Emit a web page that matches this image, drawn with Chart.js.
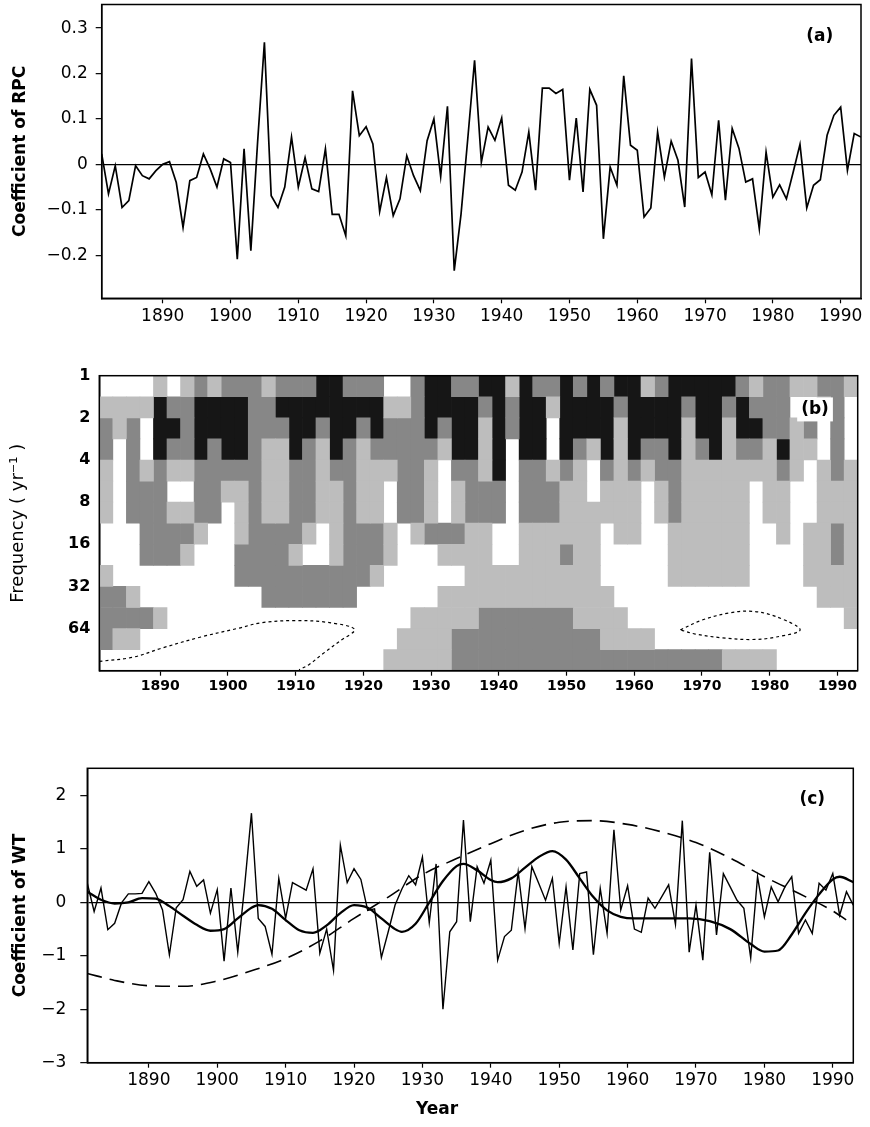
<!DOCTYPE html>
<html>
<head>
<meta charset="utf-8">
<script src="https://cdn.jsdelivr.net/npm/chart.js@4.4.1/dist/chart.umd.min.js"></script>
<style>
  body { margin: 0; background: #fff; }
  #page { position: relative; width: 870px; height: 1127px; }
  canvas { position: absolute; left: 0; }
  #yearLabel { position: absolute; left: 437px; top: 1108px; transform: translate(-50%, -50%);
               font: bold 17px "DejaVu Sans", sans-serif; color: #000; }
</style>
</head>
<body>
<div id="page">
  <canvas id="rpc" width="870" height="340" style="top:0px"></canvas>
  <canvas id="wavelet" width="870" height="380" style="top:340px"></canvas>
  <canvas id="wt" width="870" height="407" style="top:720px"></canvas>
  <div id="yearLabel">Year</div>
</div>
<script>
// ---- data ---- //
const firstYear = 1881;
const lastYear = 1993;
const yearTicks = [1890, 1900, 1910, 1920, 1930, 1940, 1950, 1960, 1970, 1980, 1990];

// (a) coefficient of the rotated PC, one value per year 1881-1993
const rpcValues = [
  0.023, -0.065, -0.003, -0.095, -0.08, -0.003, -0.025, -0.032, -0.014, 0.0,
  0.006, -0.04, -0.139, -0.036, -0.029, 0.023, -0.01, -0.05, 0.012, 0.004,
  -0.209, 0.034, -0.19, 0.05, 0.269, -0.069, -0.095, -0.05, 0.06, -0.05,
  0.015, -0.054, -0.06, 0.034, -0.11, -0.11, -0.157, 0.162, 0.063, 0.083,
  0.045, -0.104, -0.029, -0.113, -0.076, 0.019, -0.025, -0.058, 0.052, 0.1,
  -0.027, 0.128, -0.234, -0.11, 0.057, 0.229, 0.005, 0.082, 0.053, 0.102,
  -0.046, -0.057, -0.017, 0.071, -0.057, 0.168, 0.168, 0.156, 0.165, -0.035,
  0.102, -0.061, 0.165, 0.13, -0.164, -0.006, -0.046, 0.195, 0.042, 0.031,
  -0.116, -0.096, 0.071, -0.028, 0.051, 0.009, -0.094, 0.233, -0.029, -0.017,
  -0.067, 0.097, -0.079, 0.079, 0.035, -0.039, -0.032, -0.142, 0.027, -0.072,
  -0.045, -0.076, -0.017, 0.044, -0.096, -0.046, -0.034, 0.064, 0.108, 0.126,
  -0.013, 0.068, 0.06
];
const rpcTicks = [-0.2, -0.1, 0, 0.1, 0.2, 0.3];
const rpcTickLabels = ['\u22120.2', '\u22120.1', '0', '0.1', '0.2', '0.3'];

// (b) wavelet shading: rows are half-octave bands of period (1 yr at top),
// columns are 2-year blocks from 1881; 0 white, 1 light, 2 dark, 3 black
const periodTicks = [0, 1, 2, 3, 4, 5, 6];
const periodTickLabels = ['1', '2', '4', '8', '16', '32', '64'];
const waveletRows = [
  '00001 01212 22122 23322 20023 32 | 23313 22323 23312 33333 21221 1221',
  '11113 22333 32233 33333 31123 33 | 32323 31333 32333 32332 32220 0120',
  '21203 32333 32223 32332 32223 23 | 31323 30333 31333 31331 33221 2020',
  '20203 22323 32113 21321 22222 13 | 31303 30321 31322 31231 22131 1020',
  '10212 11222 22112 21221 11221 02 | 21302 21210 21212 21111 11121 0121',
  '10222 00221 12112 21121 10221 01 | 22202 22110 11101 21111 10110 0111',
  '10222 11220 12112 21121 10221 01 | 22202 22111 11101 21111 10110 0111',
  '00022 22100 12222 10122 21012 22 | 11001 11111 01100 11111 10010 1121',
  '00022 21000 22221 00122 21000 11 | 11001 11211 00000 11111 10000 1121',
  '10000 00000 22222 22222 10000 00 | 11111 11111 00000 11111 10000 1111',
  '22100 00000 00222 22220 00000 11 | 11111 11111 10000 00000 00000 0111',
  '22221 00000 00000 00000 00011 11 | 12222 22211 11000 00000 00000 0001',
  '21100 00000 00000 00000 00111 12 | 22222 22222 11110 00000 00000 0000',
  '00000 00000 00000 00000 01111 12 | 22222 22222 22222 22221 11100 0000'
];
const waveletColStep = 2;   // years per block
const waveletRowStep = 0.5; // octaves per band
const shadeColors = ['#bdbdbd', '#878787', '#161616'];
// dashed (negative) contours near the bottom, in year / log2(period)
const contourWestYears = [1881.0, 1886.0, 1890.3, 1896.0, 1901.6, 1905.0, 1910.0, 1915.0, 1918.7, 1916.5, 1914.0, 1912.0, 1910.5];
const contourWestLevels = [6.78, 6.68, 6.46, 6.2, 5.99, 5.86, 5.81, 5.86, 6.02, 6.3, 6.6, 6.85, 6.98];
const contourEastYears = [1966.8, 1970.0, 1974.0, 1977.4, 1981.0, 1984.5, 1981.0, 1977.4, 1973.0, 1969.0, 1966.8];
const contourEastLevels = [6.03, 5.8, 5.63, 5.59, 5.72, 6.03, 6.2, 6.26, 6.22, 6.13, 6.03];

// (c) coefficient of the wavelet transform, one value per year 1881-1993
const wtValues = [
  0.36, -0.17, 0.27, -0.51, -0.39, -0.01, 0.16, 0.16, 0.17, 0.39,
  0.17, -0.14, -0.98, -0.1, 0.05, 0.58, 0.3, 0.42, -0.2, 0.24,
  -1.1, 0.27, -0.93, 0.3, 1.67, -0.3, -0.45, -0.97, 0.45, -0.3,
  0.37, 0.3, 0.23, 0.63, -0.95, -0.5, -1.27, 1.07, 0.37, 0.63,
  0.43, -0.15, -0.12, -1.03, -0.55, -0.05, 0.25, 0.5, 0.33, 0.85,
  -0.38, 0.72, -2.0, -0.55, -0.36, 1.54, -0.36, 0.67, 0.36, 0.79,
  -1.08, -0.64, -0.52, 0.57, -0.49, 0.67, 0.36, 0.04, 0.45, -0.77,
  0.29, -0.89, 0.54, 0.57, -0.98, 0.26, -0.58, 1.36, -0.14, 0.31,
  -0.5, -0.56, 0.08, -0.11, 0.11, 0.33, -0.41, 1.53, -0.93, -0.05,
  -1.08, 0.94, -0.61, 0.54, 0.29, 0.04, -0.11, -1.04, 0.48, -0.27,
  0.29, 0.01, 0.29, 0.48, -0.58, -0.33, -0.58, 0.36, 0.23, 0.54,
  -0.24, 0.2, -0.05
];
// decadal component (thick solid curve)
const wtSmoothYears = [1881, 1883, 1885, 1887, 1889, 1891, 1893, 1895, 1897, 1899, 1901, 1903, 1905, 1906, 1908, 1910,
  1912, 1914, 1916, 1918, 1920, 1922, 1924, 1926, 1927, 1929, 1931, 1933, 1935, 1936, 1938, 1940, 1941, 1943, 1945,
  1947, 1949, 1951, 1953, 1955, 1957, 1959, 1961, 1965, 1969, 1972, 1975, 1978, 1980, 1982, 1984, 1986, 1988, 1990, 1991, 1993];
const wtSmoothValues = [0.2, 0.05, -0.02, 0.0, 0.08, 0.07, -0.07, -0.25, -0.42, -0.53, -0.5, -0.3, -0.1, -0.05, -0.12, -0.33,
  -0.52, -0.57, -0.43, -0.2, -0.05, -0.1, -0.3, -0.5, -0.55, -0.4, 0.0, 0.4, 0.68, 0.72, 0.6, 0.42, 0.38, 0.45, 0.65,
  0.85, 0.96, 0.8, 0.45, 0.1, -0.15, -0.27, -0.3, -0.3, -0.3, -0.35, -0.5, -0.78, -0.92, -0.9, -0.6, -0.2, 0.15, 0.43, 0.48, 0.38];
// long-period component (dashed curve)
const wtTrendYears = [1881, 1885, 1890, 1895, 1900, 1905, 1910, 1915, 1920, 1925, 1930, 1935, 1940, 1945, 1950, 1955,
  1960, 1965, 1970, 1975, 1980, 1985, 1990, 1992];
const wtTrendValues = [-1.33, -1.46, -1.56, -1.57, -1.47, -1.28, -1.05, -0.72, -0.3, 0.1, 0.52, 0.82, 1.1, 1.35, 1.5, 1.53,
  1.46, 1.32, 1.12, 0.83, 0.48, 0.17, -0.16, -0.33];
const wtTicks = [-3, -2, -1, 0, 1, 2];
const wtTickLabels = ['\u22123', '\u22122', '\u22121', '0', '1', '2'];

// ---- common setup ---- //
Chart.defaults.font.family = '"DejaVu Sans", sans-serif';
Chart.defaults.color = '#000';
Chart.defaults.animation = false;
Chart.defaults.plugins.legend.display = false;
Chart.defaults.plugins.tooltip.enabled = false;

const framePlugin = {
  id: 'frame',
  afterDatasetsDraw(chart) {
    const { ctx, chartArea: a } = chart;
    ctx.save();
    ctx.strokeStyle = '#000';
    ctx.lineWidth = 1.5;
    ctx.strokeRect(a.left, a.top, a.right - a.left, a.bottom - a.top);
    ctx.restore();
  }
};

const tagPlugin = {
  id: 'tag',
  afterDraw(chart, args, opts) {
    if (!opts.text) return;
    const ctx = chart.ctx;
    const x = chart.scales.x.getPixelForValue(opts.x);
    const y = chart.scales.y.getPixelForValue(opts.y);
    ctx.save();
    ctx.font = 'bold 17px "DejaVu Sans", sans-serif';
    ctx.textAlign = 'center';
    ctx.textBaseline = 'middle';
    if (opts.box) {
      const w = ctx.measureText(opts.text).width + 8;
      ctx.fillStyle = '#fff';
      ctx.fillRect(x - w / 2, y - 12, w, 24);
    }
    ctx.fillStyle = '#000';
    ctx.fillText(opts.text, x, y);
    ctx.restore();
  }
};

function yearAxis(height, font, tickLength, padding) {
  return {
    type: 'linear', min: firstYear, max: lastYear, offset: false,
    afterBuildTicks: s => { s.ticks = yearTicks.map(v => ({ value: v })); },
    afterFit: s => { s.height = height; s.paddingLeft = 0; s.paddingRight = 0; },
    grid: { drawOnChartArea: false, offset: false, tickLength: tickLength, tickColor: '#000', tickWidth: 1.2 },
    border: { color: '#000', width: 1.5 },
    ticks: { font: font, padding: padding, maxRotation: 0, autoSkip: false, callback: (v, i) => String(yearTicks[i]) }
  };
}

function valueAxis(opt) {
  return {
    type: 'linear', min: opt.min, max: opt.max, reverse: !!opt.reverse,
    afterBuildTicks: s => { s.ticks = opt.ticks.map(v => ({ value: v })); },
    afterFit: s => { s.width = opt.width; s.paddingTop = 0; s.paddingBottom = 0; },
    grid: {
      drawOnChartArea: !!opt.zeroLine,
      color: c => (opt.zeroLine && c.tick && c.tick.value === 0) ? '#000' : 'rgba(0,0,0,0)',
      lineWidth: 1.3,
      drawTicks: opt.tickLength > 0,
      tickLength: opt.tickLength, tickColor: '#000', tickWidth: 1.2
    },
    border: { color: '#000', width: 1.5 },
    ticks: { font: opt.font, padding: opt.padding, autoSkip: false, callback: (v, i) => opt.labels[i] },
    title: { display: true, text: opt.title, font: opt.titleFont, padding: { top: opt.titlePad, bottom: 0 } }
  };
}

// ---- (a) ---- //
new Chart(document.getElementById('rpc'), {
  type: 'line',
  data: {
    datasets: [{
      data: rpcValues.map((v, i) => ({ x: firstYear + i, y: v })),
      borderColor: '#000', borderWidth: 1.7, pointRadius: 0, tension: 0
    }]
  },
  options: {
    responsive: false, devicePixelRatio: 1,
    layout: { padding: { left: 0, right: 9, top: 4.5, bottom: 7.7 } },
    scales: {
      x: yearAxis(34, { size: 17 }, 5, 3),
      y: valueAxis({
        min: -0.295, max: 0.352, ticks: rpcTicks, labels: rpcTickLabels, width: 101.7,
        zeroLine: true, tickLength: 6, padding: 8, font: { size: 17 },
        title: 'Coefficient of RPC', titleFont: { size: 17, weight: 'bold' }, titlePad: 10
      })
    },
    plugins: { tag: { text: '(a)', x: 1986.9, y: 0.281 } }
  },
  plugins: [framePlugin, tagPlugin]
});

// ---- (b) ---- //
const waveletCells = waveletRows.map(r => r.replace(/[\s|]/g, '').split(''));
const waveletBars = shadeColors.map((color, k) => {
  const level = String(k + 1);
  const data = [];
  waveletCells.forEach((row, r) => {
    row.forEach((c, i) => {
      if (c === level) {
        data.push({
          x: firstYear + waveletColStep * (i + 0.5),
          y: [r * waveletRowStep, (r + 1) * waveletRowStep]
        });
      }
    });
  });
  return {
    type: 'bar', data: data, backgroundColor: color, borderWidth: 0,
    grouped: false, barPercentage: 1, categoryPercentage: 1, order: 2
  };
});
const contourStyle = { type: 'line', borderColor: '#000', borderWidth: 1.2, borderDash: [3, 3], pointRadius: 0, tension: 0.35, order: 0 };

new Chart(document.getElementById('wavelet'), {
  type: 'bar',
  data: {
    datasets: [
      Object.assign({ data: contourWestYears.map((x, i) => ({ x: x, y: contourWestLevels[i] })) }, contourStyle),
      Object.assign({ data: contourEastYears.map((x, i) => ({ x: x, y: contourEastLevels[i] })) }, contourStyle)
    ].concat(waveletBars)
  },
  options: {
    responsive: false, devicePixelRatio: 1,
    layout: { padding: { left: 0, right: 12.3, top: 35.7, bottom: 19.3 } },
    scales: {
      x: yearAxis(30, { size: 14, weight: 'bold' }, 5, 2),
      y: valueAxis({
        min: 0, max: 7, reverse: true, ticks: periodTicks, labels: periodTickLabels, width: 99.3,
        zeroLine: false, tickLength: 0, padding: 9, font: { size: 16, weight: 'bold' },
        title: 'Frequency ( yr\u207B\u00B9 )', titleFont: { size: 18 }, titlePad: 8
      })
    },
    plugins: { tag: { text: '(b)', x: 1986.7, y: 0.8, box: true } }
  },
  plugins: [framePlugin, tagPlugin]
});

// ---- (c) ---- //
new Chart(document.getElementById('wt'), {
  type: 'line',
  data: {
    datasets: [
      {
        data: wtValues.map((v, i) => ({ x: firstYear + i, y: v })),
        borderColor: '#000', borderWidth: 1.4, pointRadius: 0, tension: 0
      },
      {
        data: wtSmoothYears.map((x, i) => ({ x: x, y: wtSmoothValues[i] })),
        borderColor: '#000', borderWidth: 2.3, pointRadius: 0, cubicInterpolationMode: 'monotone'
      },
      {
        data: wtTrendYears.map((x, i) => ({ x: x, y: wtTrendValues[i] })),
        borderColor: '#000', borderWidth: 1.6, borderDash: [15, 8], pointRadius: 0, cubicInterpolationMode: 'monotone'
      }
    ]
  },
  options: {
    responsive: false, devicePixelRatio: 1,
    layout: { padding: { left: 0, right: 16.7, top: 48.3, bottom: 28.3 } },
    scales: {
      x: yearAxis(36, { size: 17 }, 5, 3),
      y: valueAxis({
        min: -3, max: 2.51, ticks: wtTicks, labels: wtTickLabels, width: 87.3,
        zeroLine: true, tickLength: 7, padding: 14, font: { size: 17 },
        title: 'Coefficient of WT', titleFont: { size: 17, weight: 'bold' }, titlePad: 10
      })
    },
    plugins: { tag: { text: '(c)', x: 1987.0, y: 1.92 } }
  },
  plugins: [framePlugin, tagPlugin]
});
</script>
</body>
</html>
